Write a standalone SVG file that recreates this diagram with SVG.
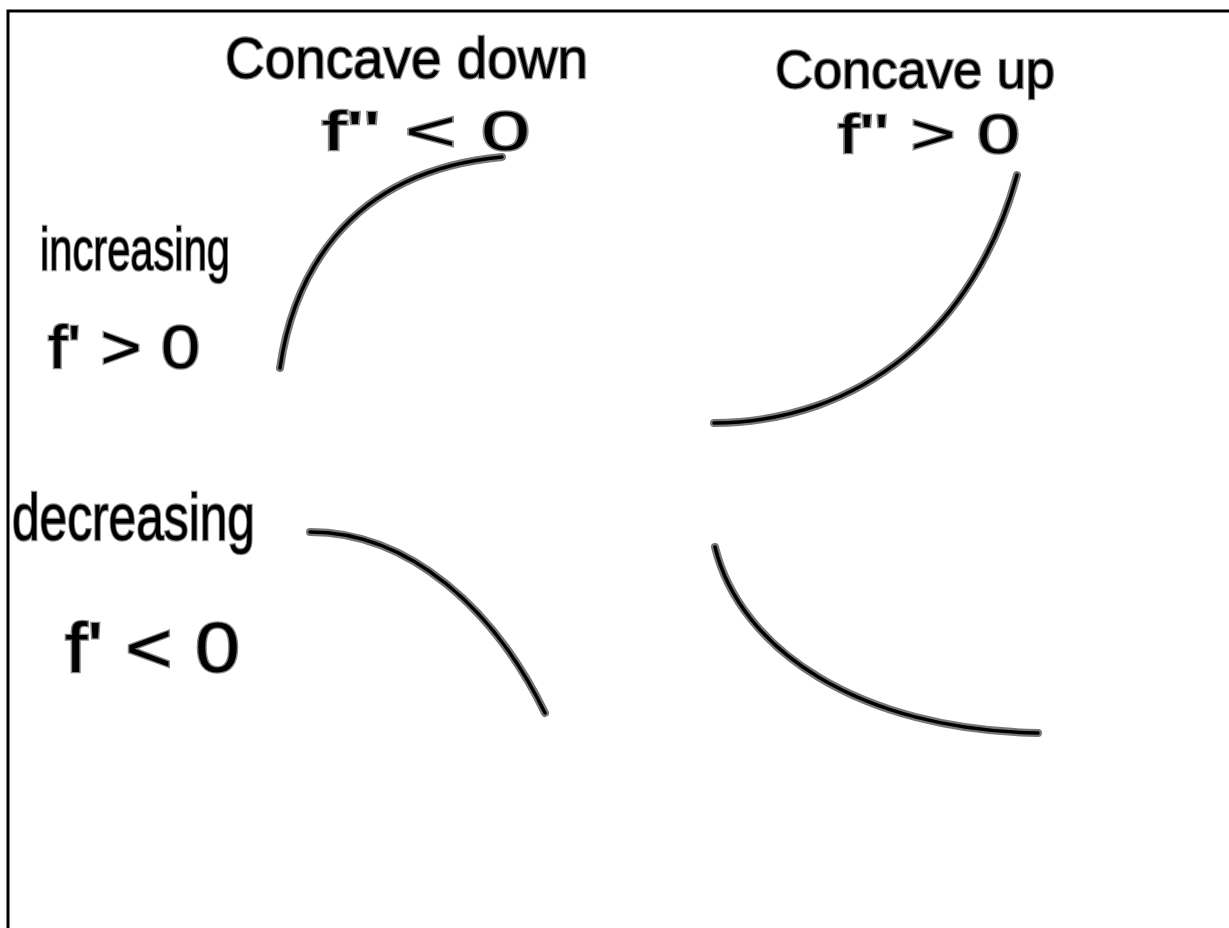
<svg xmlns="http://www.w3.org/2000/svg" width="1229" height="928" viewBox="0 0 1229 928">
  <style>
    .halo { fill: none; stroke: #777; stroke-width: 8; stroke-linecap: round; stroke-linejoin: round; }
    .ink { fill: none; stroke: #000; stroke-width: 3.5; stroke-linecap: round; stroke-linejoin: round; }
    .hand { font-family: "Liberation Sans", "DejaVu Sans", sans-serif; font-weight: normal; fill: #000; stroke: #888; stroke-width: 2.5; paint-order: stroke; }
  </style>
  <rect x="0" y="0" width="1229" height="928" fill="#fff"/>
  <rect x="8" y="11" width="1250" height="940" fill="none" stroke="#000" stroke-width="3"/>

  <g id="label-concave-down">
    <text class="hand" x="225" y="78" font-size="58" textLength="363" lengthAdjust="spacingAndGlyphs">Concave down</text>
    <text class="hand" x="322" y="150" font-size="56" textLength="208" lengthAdjust="spacingAndGlyphs">f'' &lt; 0</text>
  </g>
  <g id="label-concave-up">
    <text class="hand" x="775" y="88" font-size="54" textLength="280" lengthAdjust="spacingAndGlyphs">Concave  up</text>
    <text class="hand" x="838" y="153" font-size="56" textLength="182" lengthAdjust="spacingAndGlyphs">f'' &gt; 0</text>
  </g>
  <g id="label-increasing">
    <text class="hand" x="40" y="270" font-size="62" textLength="190" lengthAdjust="spacingAndGlyphs">increasing</text>
    <text class="hand" x="48" y="368" font-size="62" textLength="152" lengthAdjust="spacingAndGlyphs">f' &gt; 0</text>
  </g>
  <g id="label-decreasing">
    <text class="hand" x="12" y="540" font-size="66" textLength="243" lengthAdjust="spacingAndGlyphs">decreasing</text>
    <text class="hand" x="65" y="672" font-size="70" textLength="175" lengthAdjust="spacingAndGlyphs">f' &lt; 0</text>
  </g>

  <g id="connectors">
    <g id="curve-inc-down">
      <path class="halo" d="M280,368 C292,285 340,172 502,157"/>
      <path class="ink" d="M280,368 C292,285 340,172 502,157"/>
    </g>
    <g id="curve-inc-up">
      <path class="halo" d="M714,423 C860,422 975,330 1017,175"/>
      <path class="ink" d="M714,423 C860,422 975,330 1017,175"/>
    </g>
    <g id="curve-dec-down">
      <path class="halo" d="M310,532 C410,532 495,610 545,713"/>
      <path class="ink" d="M310,532 C410,532 495,610 545,713"/>
    </g>
    <g id="curve-dec-up">
      <path class="halo" d="M715,547 C740,650 860,730 1038,733"/>
      <path class="ink" d="M715,547 C740,650 860,730 1038,733"/>
    </g>
  </g>
</svg>
